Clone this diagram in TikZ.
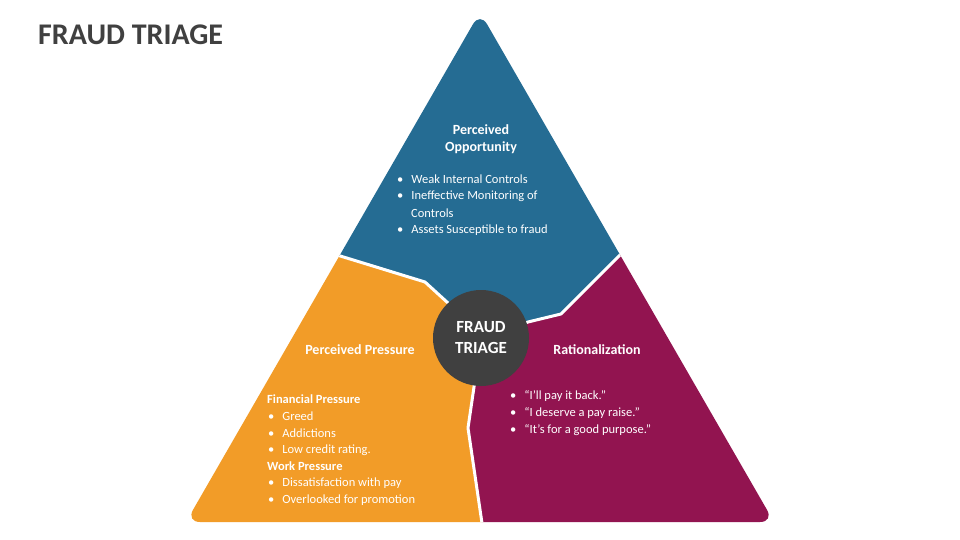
\documentclass[tikz,border=0pt]{standalone}
\usepackage{fontspec}
\setmainfont{Carlito}
\definecolor{cblue}{HTML}{256C93}
\definecolor{corange}{HTML}{F29C28}
\definecolor{cmag}{HTML}{921450}
\definecolor{cdark}{HTML}{404040}
\begin{document}
\begin{tikzpicture}[x=1pt,y=-1pt,
  head/.style={text=white,font=\fontsize{14}{17}\selectfont\bfseries,align=center},
  item/.style={text=white,font=\fontsize{12.5}{17}\selectfont,anchor=west,inner sep=0pt},
  sub/.style={text=white,font=\fontsize{12.5}{17}\selectfont\bfseries,anchor=west,inner sep=0pt},
  divider/.style={white,line width=3pt,line join=round}]
\useasboundingbox (0,0) rectangle (960,540);
\fill[white] (0,0) rectangle (960,540);
\node[anchor=west,text=cdark,font=\fontsize{30}{34}\selectfont\bfseries,inner sep=0pt] (title) at (38,35) {FRAUD TRIAGE};
\begin{scope}
\clip[rounded corners=14pt] (480,12)--(774,522)--(186,522)--cycle;
\fill[cblue] (480,0)--(640,240)--(622,253)--(561,314)--(528,322)--(481,338)--(448,303)--(425,282)--(337,255)--(320,240)--cycle;
\fill[corange] (337,255)--(425,282)--(448,303)--(481,338)--(474,387)--(468,428)--(483,530)--(150,530)--(320,240)--cycle;
\fill[cmag] (622,253)--(561,314)--(528,322)--(481,338)--(474,387)--(468,428)--(483,530)--(800,530)--(640,240)--cycle;
\draw[divider] (300,243)--(337,255)--(425,282)--(448,303)--(481,338);
\draw[divider] (660,215)--(622,253)--(561,314)--(528,322)--(481,338);
\draw[divider] (481,338)--(474,387)--(468,428)--(483,530);
\end{scope}
\node[circle,fill=cdark,minimum size=96pt,inner sep=0pt,text=white,font=\fontsize{17}{21}\selectfont\bfseries,align=center] (c) at (481,338) {FRAUD\\TRIAGE};
\node[head] (h1) at (481,139) {Perceived\\Opportunity};
\node[item] (o1) at (397,179) {\textbullet\hspace{8pt}Weak Internal Controls};
\node[item] (o2) at (397,196) {\textbullet\hspace{8pt}Ineffective Monitoring of};
\node[item] (o3) at (411,213) {Controls};
\node[item] (o4) at (397,230) {\textbullet\hspace{8pt}Assets Susceptible to fraud};
\node[head] (h2) at (360,350) {Perceived Pressure};
\node[sub] (p0) at (267,399) {Financial Pressure};
\node[item] (p1) at (268,416) {\textbullet\hspace{8pt}Greed};
\node[item] (p2) at (268,433) {\textbullet\hspace{8pt}Addictions};
\node[item] (p3) at (268,450) {\textbullet\hspace{8pt}Low credit rating.};
\node[sub] (p4) at (267,466) {Work Pressure};
\node[item] (p5) at (268,483) {\textbullet\hspace{8pt}Dissatisfaction with pay};
\node[item] (p6) at (268,500) {\textbullet\hspace{8pt}Overlooked for promotion};
\node[head] (h3) at (597,350) {Rationalization};
\node[item] (r1) at (510,396) {\textbullet\hspace{8pt}“I’ll pay it back.”};
\node[item] (r2) at (510,413) {\textbullet\hspace{8pt}“I deserve a pay raise.”};
\node[item] (r3) at (510,430) {\textbullet\hspace{8pt}“It’s for a good purpose.”};
\end{tikzpicture}
\end{document}
